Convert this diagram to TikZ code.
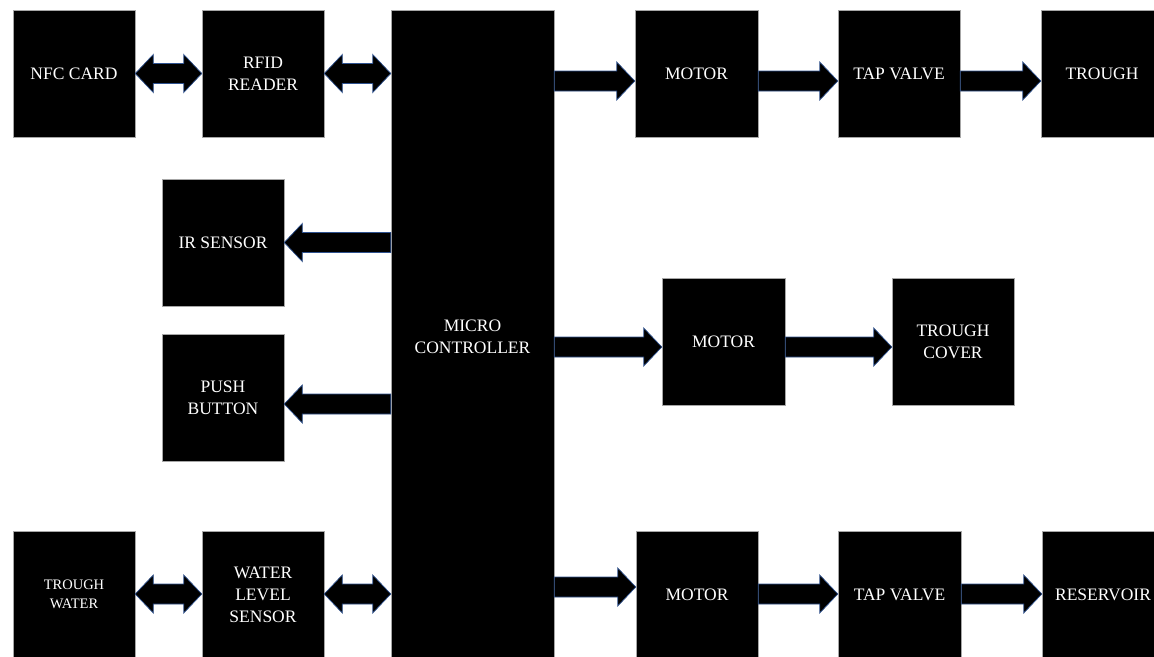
\documentclass[tikz,border=0pt]{standalone}
\usepackage{fontspec}
\setmainfont{Liberation Serif}
\usetikzlibrary{calc}
\definecolor{arrline}{HTML}{2F528F}
\tikzset{
  box/.style={draw=gray!70, line width=0.5pt, fill=black, text=white, align=center,
    minimum width=122pt, minimum height=127pt, inner sep=0pt,
    font=\fontsize{17.5}{22}\selectfont},
  smalltext/.style={font=\fontsize{14.5}{19}\selectfont},
  arr/.style={draw=arrline, line width=0.7pt, fill=black, line join=miter}
}
% right-pointing block arrow from #1.east to #2.west at y = #3 (px from top)
\newcommand\rblock[3]{%
  \draw[arr] let \p1=(#1.east), \p2=(#2.west) in
    (\x1,{-(#3-10)*1pt}) -- ({\x2-18pt},{-(#3-10)*1pt}) -- ({\x2-18pt},{-(#3-19)*1pt})
    -- (\x2,{-#3*1pt}) -- ({\x2-18pt},{-(#3+19)*1pt}) -- ({\x2-18pt},{-(#3+10)*1pt})
    -- (\x1,{-(#3+10)*1pt}) -- cycle;}
% left-pointing block arrow from #1.west to #2.east
\newcommand\lblock[3]{%
  \draw[arr] let \p1=(#1.west), \p2=(#2.east) in
    (\x1,{-(#3-10)*1pt}) -- ({\x2+18pt},{-(#3-10)*1pt}) -- ({\x2+18pt},{-(#3-19)*1pt})
    -- (\x2,{-#3*1pt}) -- ({\x2+18pt},{-(#3+19)*1pt}) -- ({\x2+18pt},{-(#3+10)*1pt})
    -- (\x1,{-(#3+10)*1pt}) -- cycle;}
% double block arrow between #1.east and #2.west
\newcommand\dblock[3]{%
  \draw[arr] let \p1=(#1.east), \p2=(#2.west) in
    (\x1,{-#3*1pt}) -- ({\x1+18pt},{-(#3-19)*1pt}) -- ({\x1+18pt},{-(#3-10)*1pt})
    -- ({\x2-18pt},{-(#3-10)*1pt}) -- ({\x2-18pt},{-(#3-19)*1pt}) -- (\x2,{-#3*1pt})
    -- ({\x2-18pt},{-(#3+19)*1pt}) -- ({\x2-18pt},{-(#3+10)*1pt})
    -- ({\x1+18pt},{-(#3+10)*1pt}) -- ({\x1+18pt},{-(#3+19)*1pt}) -- cycle;}
\begin{document}
\begin{tikzpicture}[x=1pt,y=-1pt]
\useasboundingbox (0,0) rectangle (1154,656);
\clip (0,0) rectangle (1154,656);
% left column
\node[box] (nfc)  at (74,73.5)   {NFC CARD};
\node[box] (rfid) at (263,73.5)  {RFID\\READER};
\node[box] (ir)   at (223,242.5) {IR SENSOR};
\node[box] (push) at (223,397.5) {PUSH\\BUTTON};
\node[box,smalltext] (tw) at (74,594.5) {TROUGH\\WATER};
\node[box] (wls)  at (263,594.5) {WATER\\LEVEL\\SENSOR};
% controller
\node[box, minimum width=163pt, minimum height=654pt] (mc) at (472.5,337) {MICRO\\CONTROLLER};
% right side
\node[box, minimum width=123pt] (m1) at (696.5,73.5) {MOTOR};
\node[box] (tv1) at (899,73.5)  {TAP VALVE};
\node[box] (tr)  at (1102,73.5) {TROUGH};
\node[box, minimum width=123pt] (m2) at (723.5,341.5) {MOTOR};
\node[box] (tc)  at (953,341.5) {TROUGH\\COVER};
\node[box] (m3)  at (697,594.5) {MOTOR};
\node[box, minimum width=123pt] (tv3) at (899.5,594.5) {TAP VALVE};
\node[box] (res) at (1103,594.5) {RESERVOIR};
% connectors
\dblock{nfc}{rfid}{73.5}
\dblock{rfid}{mc}{73.5}
\rblock{mc}{m1}{81}
\rblock{m1}{tv1}{81}
\rblock{tv1}{tr}{81}
\lblock{mc}{ir}{242.5}
\lblock{mc}{push}{404}
\rblock{mc}{m2}{347}
\rblock{m2}{tc}{347}
\dblock{tw}{wls}{594}
\dblock{wls}{mc}{594}
\rblock{mc}{m3}{587}
\rblock{m3}{tv3}{594}
\rblock{tv3}{res}{594}
\end{tikzpicture}
\end{document}
